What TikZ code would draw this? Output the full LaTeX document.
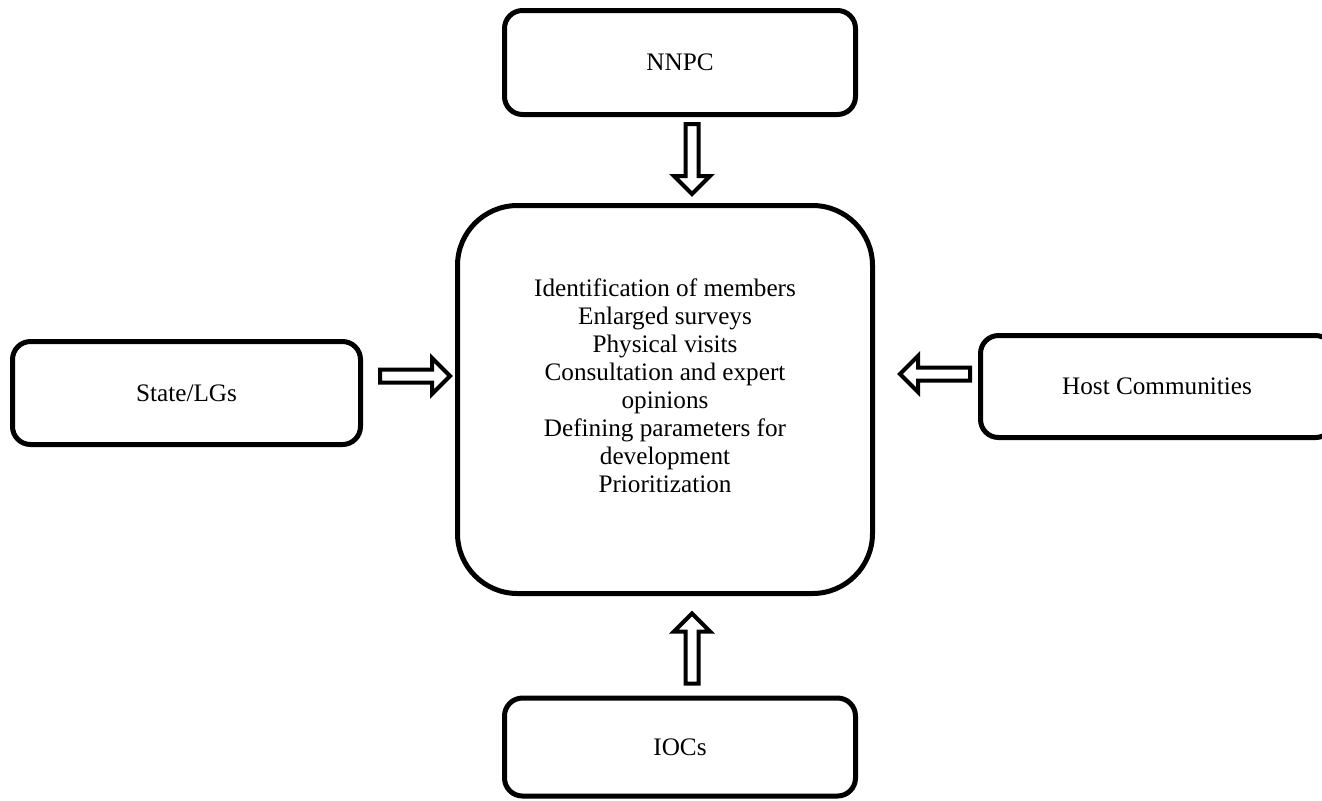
\documentclass[tikz,border=0pt]{standalone}
\usepackage{fontspec}
\setmainfont{Liberation Serif}
\usetikzlibrary{calc,positioning}

\tikzset{fatarrow/.pic={
\draw[line width=2pt, fill=white, miter limit=10] (0,-6.5) -- (52,-6.5) -- (52,-18) -- (70,0) -- (52,18) -- (52,6.5) -- (0,6.5) -- cycle;
}}

\begin{document}
\begin{tikzpicture}
[x=0.5pt, y=-0.5pt, font=\fontsize{12.6}{14}\selectfont,
			box/.style={draw, line width=2.5pt, rounded corners=9pt, align=center, inner sep=0pt}]
\useasboundingbox (0,0) rectangle (1322,800);
\clip (0,0) rectangle (1322,800);

\node (nnpc) at (680,62.5)[box, minimum width=175.5pt, minimum height=52pt] {NNPC};
\node (state) at (186.5,393)[box, minimum width=174pt, minimum height=51.5pt] {State/LGs};
\node (host) at (1157,386.5)[box, minimum width=176.5pt, minimum height=51pt] {Host Communities};
\node (iocs) at (680,747)[box, minimum width=175.5pt, minimum height=49pt] {IOCs};

\node (centre) at (665,399.5)[box, rounded corners=30pt, minimum width=207.5pt, minimum height=194pt] {};
\node (steps) at (665,386)[align=center] {Identification of members\\Enlarged surveys\\Physical visits\\Consultation and expert\\opinions\\Defining parameters for\\development\\Prioritization};

% block arrows into the centre box
\pic[rotate=-90] at ($(nnpc.south)+(12,7)$) {fatarrow};
\pic[rotate=90] at ($(iocs.north)+(12,-12)$) {fatarrow};
\pic at ($(state.east)+(17,-17)$) {fatarrow};
\pic[rotate=180] at ($(host.west)+(-8,-12.5)$) {fatarrow};

\end{tikzpicture}
\end{document}
